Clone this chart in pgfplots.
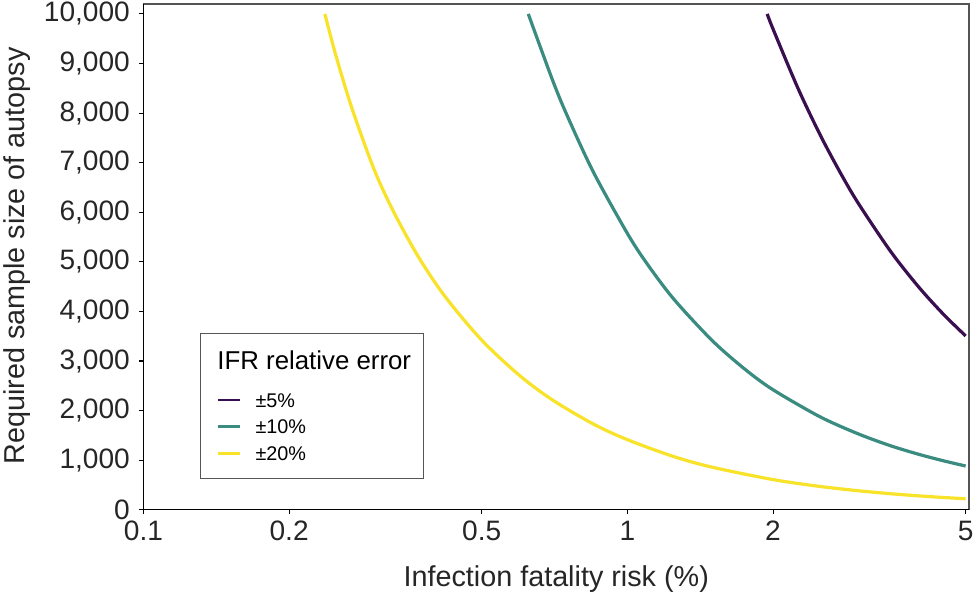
\documentclass[border=0pt]{standalone}
\usepackage{pgfplots}
\pgfplotsset{compat=1.18}
\usepackage{fontspec}
\setmainfont{Liberation Sans}

\definecolor{vir5}{HTML}{3A0F50}
\definecolor{vir10}{HTML}{3B8C80}
\definecolor{vir20}{HTML}{F8E32A}
\definecolor{framegray}{HTML}{555555}

\begin{document}
\begin{tikzpicture}
\begin{axis}[
  name=ax,
  scale only axis,
  width=617pt, height=378pt,
  xmode=log,
  xmin=0.1, xmax=5.08,
  ymin=0, ymax=10200,
  xtick={0.1,0.2,0.5,1,2,5},
  xticklabels={0.1,0.2,0.5,1,2,5},
  minor xtick={},
  ytick={0,1000,...,10000},
  scaled y ticks=false,
  yticklabel style={xshift=-5.5pt, /pgf/number format/.cd, fixed, 1000 sep={,}, assume math mode=true},
  tick label style={font=\fontsize{21}{24}\selectfont, text=black!85, inner sep=1pt},
  xticklabel style={yshift=-3.5pt},
  xtick pos=bottom, ytick pos=left,
  tick align=outside,
  major tick length=3.5pt,
  every tick/.style={black, line width=0.8pt},
  axis line style={framegray, line width=0.8pt},
  xlabel={Infection fatality risk (\%)},
  ylabel={Required sample size of autopsy},
  label style={font=\fontsize{21.5}{24}\selectfont, text=black!85},
  xlabel style={at={(axis description cs:0.5,-0.137)}, anchor=center},
  ylabel style={at={(axis description cs:-0.153,0.502)}, anchor=center},
  legend style={
    at={(rel axis cs:0.068,0.349)}, anchor=north west,
    draw=framegray, line width=0.8pt,
    font=\fontsize{14.8}{17}\selectfont,
    inner xsep=9pt, inner ysep=8.75pt,
    row sep=0pt, column sep=0pt,
    nodes={inner sep=0pt, text depth=},
  },
  legend cell align=left,
  legend image code/.code={
    \path (0pt,0pt) (30pt,0pt);
    \draw[#1, line width=2pt] (3pt,0pt) -- (19.5pt,0pt);
  },
  after end axis/.code={
    \draw[black, line width=0.8pt] (rel axis cs:0,1) -- (rel axis cs:0,0) -- (rel axis cs:1,0);
  },
]
\addlegendimage{empty legend}
\addlegendentry{\hspace*{-28.5pt}\fontsize{19.3}{24}\selectfont IFR relative error\rule[-13pt]{0pt}{30.75pt}}

% relative error 5%
\addplot[vir5, line width=2.4pt, smooth] coordinates {
  (1.945,10000) (2.0,9695) (2.25,8507) (2.5,7568) (2.75,6809) (3.0,6181)
  (3.5,5209) (4.0,4491) (4.5,3941) (5.0,3506)
};
\addlegendentry{±5\%\rule[-4.7pt]{0pt}{20pt}}

% relative error 10%
\addplot[vir10, line width=2.4pt, smooth] coordinates {
  (0.624,10000) (0.7,8672) (0.75,7961) (0.85,6816) (1.0,5572) (1.1,4951)
  (1.25,4236) (1.5,3404) (1.75,2833) (2.0,2420) (2.5,1875) (3.0,1530)
  (3.5,1290) (4.0,1118) (4.5,987) (5.0,882)
};
\addlegendentry{±10\%\rule[-4.7pt]{0pt}{20pt}}

% relative error 20%
\addplot[vir20, line width=2.4pt, smooth] coordinates {
  (0.237,10000) (0.25,9150) (0.27,8080) (0.3,6850) (0.33,5980) (0.37,5100)
  (0.42,4300) (0.5,3420) (0.6,2700) (0.7,2215) (0.85,1730) (1.0,1413)
  (1.25,1069) (1.5,856) (2.0,608) (2.5,470) (3.0,383) (3.5,323)
  (4.0,280) (4.5,247) (5.0,222)
};
\addlegendentry{±20\%\rule[-4.7pt]{0pt}{20pt}}
\end{axis}
\pgfresetboundingbox
\path[use as bounding box] ([xshift=-107.25pt, yshift=-63.75pt]ax.south west) rectangle ([xshift=4.5pt, yshift=3pt]ax.north east);
\end{tikzpicture}
\end{document}
